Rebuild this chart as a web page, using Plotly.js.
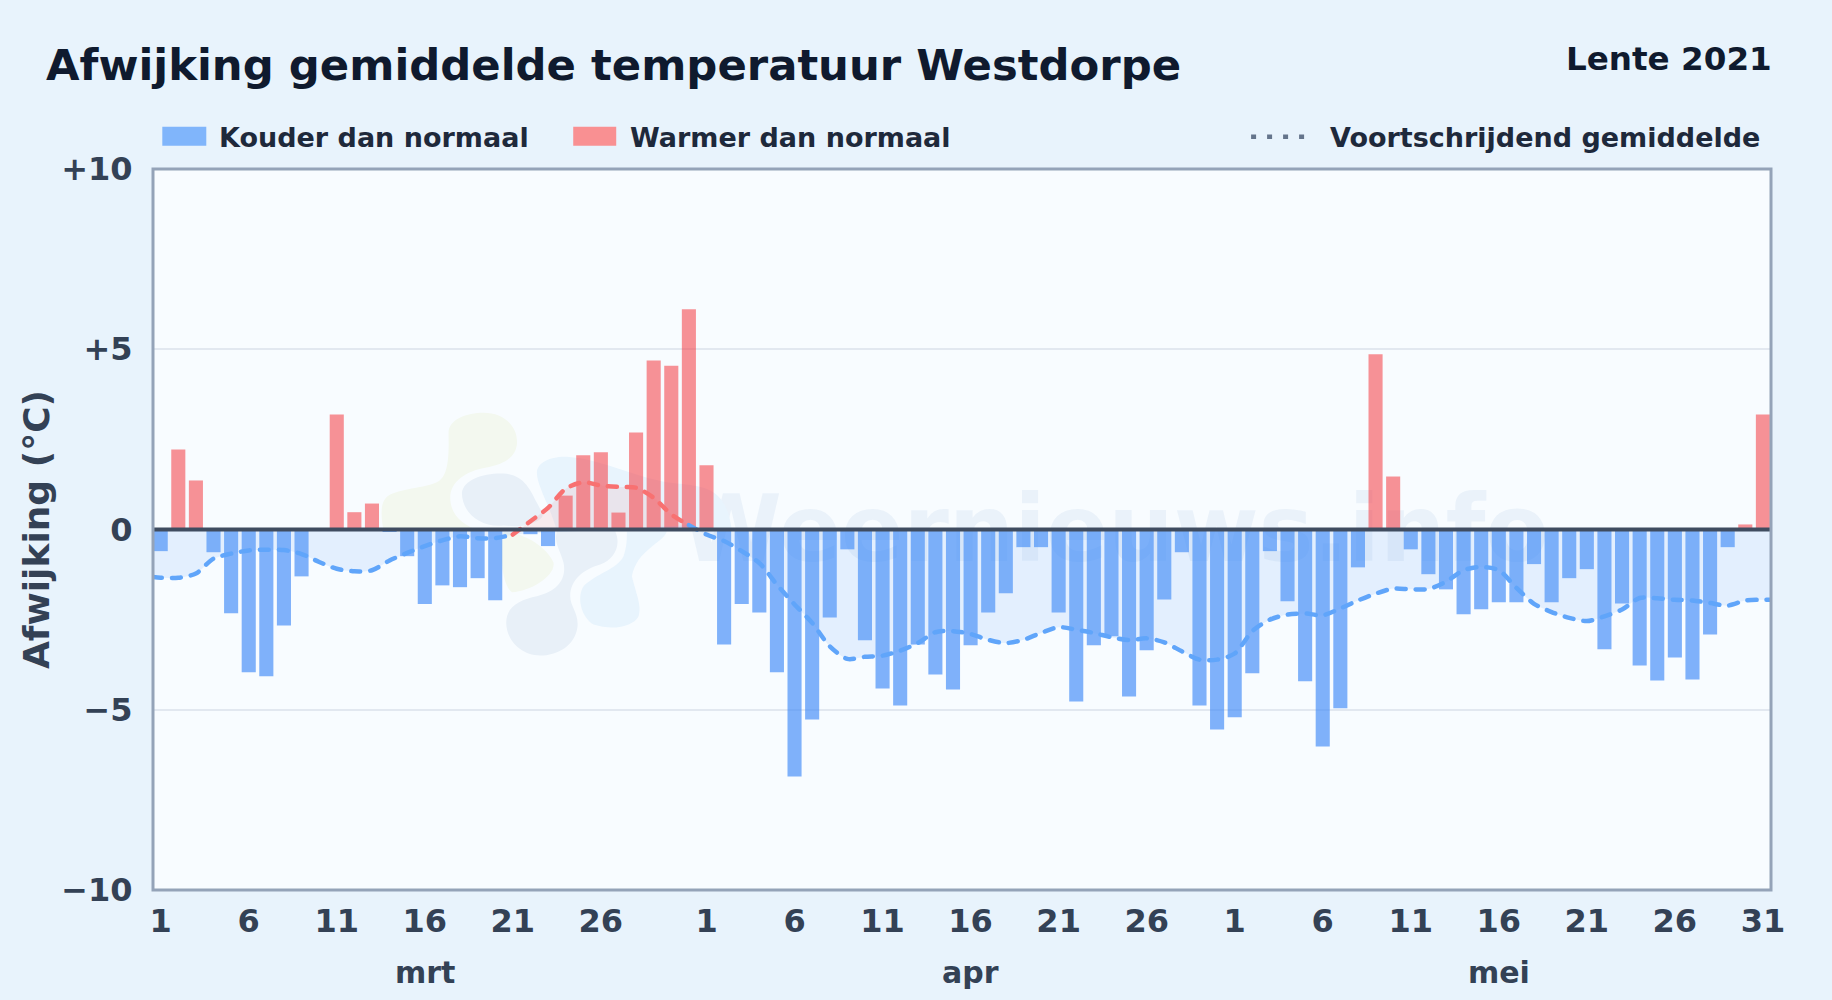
<!DOCTYPE html>
<html><head><meta charset="utf-8">
<script src="https://cdn.plot.ly/plotly-3.0.1.min.js"></script>
<style>html,body{margin:0;padding:0;background:#e8f3fc;overflow:hidden}#chart{width:1832px;height:1000px}path.js-line{stroke-linecap:round}</style>
</head><body><div id="chart"></div>
<script>
const titleText = 'Afwijking gemiddelde temperatuur Westdorpe';
const seasonText = 'Lente 2021';
const coldName = 'Kouder dan normaal';
const warmName = 'Warmer dan normaal';
const rollingName = 'Voortschrijdend gemiddelde';
const yTitle = 'Afwijking (°C)';
const watermarkText = 'Weernieuws.info';

const marchDeviation = [-0.60,2.22,1.36,-0.63,-2.32,-3.96,-4.07,-2.66,-1.30,0,3.19,0.48,0.72,-0.07,-0.74,-2.07,-1.55,-1.60,-1.35,-1.96,0,-0.13,-0.46,0.94,2.06,2.14,0.47,2.69,4.69,4.54,6.11];
const aprilDeviation = [1.78,-3.19,-2.07,-2.30,-3.96,-6.85,-5.27,-2.44,-0.55,-3.07,-4.41,-4.88,-3.19,-4.02,-4.44,-3.21,-2.30,-1.77,-0.49,-0.49,-2.30,-4.77,-3.21,-2.96,-4.63,-3.35,-1.94,-0.63,-4.88,-5.55];
const mayDeviation = [-5.21,-3.99,-0.60,-1.99,-4.21,-6.02,-4.96,-1.05,4.86,1.47,-0.55,-1.24,-1.66,-2.35,-2.21,-2.02,-2.02,-0.96,-2.02,-1.35,-1.10,-3.32,-2.05,-3.77,-4.19,-3.55,-4.16,-2.91,-0.49,0.14,3.19];

const marchRolling = [-1.34,-1.34,-1.22,-0.81,-0.67,-0.58,-0.56,-0.57,-0.68,-0.90,-1.09,-1.16,-1.13,-0.86,-0.65,-0.46,-0.30,-0.19,-0.24,-0.24,-0.14,0.23,0.60,1.13,1.31,1.22,1.18,1.16,0.88,0.42,0.12];
const aprilRolling = [-0.14,-0.32,-0.60,-0.93,-1.53,-2.08,-2.59,-3.24,-3.59,-3.53,-3.50,-3.36,-3.15,-2.85,-2.82,-2.90,-3.06,-3.15,-3.06,-2.87,-2.71,-2.78,-2.87,-2.99,-3.07,-3.02,-3.13,-3.38,-3.61,-3.61];
const mayRolling = [-3.44,-2.82,-2.50,-2.36,-2.33,-2.38,-2.19,-1.97,-1.78,-1.64,-1.66,-1.65,-1.45,-1.13,-1.04,-1.13,-1.62,-2.06,-2.29,-2.45,-2.54,-2.41,-2.22,-1.90,-1.91,-1.95,-1.97,-2.04,-2.11,-1.97,-1.95];
const rollingEdges = [-1.32,-1.95];

const monthNames = ['mrt','apr','mei'];
const monthLabelDays = [15,46,76];
const xTickDays = [0,5,10,15,20,25,31,36,41,46,51,56,61,66,71,76,81,86,91];
const xTickLabels = ['1','6','11','16','21','26','1','6','11','16','21','26','1','6','11','16','21','26','31'];
const yTickValues = [10,5,0,-5,-10];
const yTickLabels = ['+10','+5','0','−5','−10'];

const W=1832,H=1000,L=152.7,R=1771,T=169.3,B=890;
const xRange=[-0.437,91.46];
const px=x=>(x-L)/(R-L), py=y=>(B-y)/(B-T);

const deviation = marchDeviation.concat(aprilDeviation,mayDeviation);
const rolling = [rollingEdges[0]].concat(marchRolling,aprilRolling,mayRolling,[rollingEdges[1]]);
const days = deviation.map((_,i)=>i);
const rollingDays = [xRange[0]].concat(days,[xRange[1]]);
const cold = deviation.map(v=>v<0?v:null);
const warm = deviation.map(v=>v>0?v:null);
const rollingCold = rolling.map((v,i)=>{const d=rollingDays[i];return (d<=20||d>=30)?v:null;});
const rollingWarm = rolling.map((v,i)=>{const d=rollingDays[i];return (d>=20&&d<=30)?v:null;});

const font='"DejaVu Sans"';
const blobs=[
 {c:'#f3f8ef',d:'M235,100 C235,60 290,40 340,40 C400,40 445,80 440,135 C435,175 400,195 345,205 C290,215 240,245 240,295 C240,340 270,375 330,395 L40,395 C30,340 30,300 60,285 C100,265 170,265 205,245 C240,225 235,140 235,100 Z'},
 {c:'#f3f8ef',d:'M400,398 C450,395 530,440 550,490 C555,530 480,575 425,578 C395,560 385,450 400,398 Z'},
 {c:'#e8f0f8',d:'M275,280 C280,240 340,220 400,222 C460,225 480,270 500,310 C515,340 530,350 500,365 C460,385 430,380 400,378 C330,385 275,340 275,280 Z'},
 {c:'#e8f0f8',d:'M560,395 L735,395 C755,440 730,480 690,495 C640,510 600,540 600,590 C600,620 625,640 622,680 C615,740 560,768 510,768 C450,768 408,720 408,670 C408,620 450,600 500,590 C560,575 590,540 580,490 C570,450 550,430 560,395 Z'},
 {c:'#e8f4fd',d:'M500,220 C500,190 540,170 590,172 C700,180 780,230 900,250 C1000,260 1070,260 1085,395 L560,395 C540,320 500,260 500,220 Z'},
 {c:'#e8f4fd',d:'M770,395 L890,395 C880,430 800,450 785,530 C800,590 815,620 805,650 C790,680 730,695 670,675 C630,650 620,590 640,560 C680,520 740,510 760,470 C770,440 770,420 770,395 Z'}
];
function blobPath(d){
  return d.replace(/(-?[\d.]+),(-?[\d.]+)/g,(m,a,b)=>{
    const x=370+a/3,y=400+b/3;
    return ((x-160.4)/17.61).toFixed(3)+','+((530-y)/36.05).toFixed(3);
  });
}
const shapes=blobs.map(b=>({type:'path',layer:'below',xref:'x',yref:'y',path:blobPath(b.d),fillcolor:b.c,line:{width:0}}));
shapes.push({type:'rect',layer:'below',xref:'paper',yref:'paper',x0:px(698),x1:px(1531),y0:py(578),y1:py(468),line:{width:0},fillcolor:'rgba(0,0,0,0)',
  label:{text:watermarkText,font:{family:font,size:92,weight:'bold',color:'rgba(50,110,190,0.07)'},textposition:'middle center'}});
shapes.push({type:'line',layer:'above',xref:'paper',yref:'y',x0:0,x1:1,y0:0,y1:0,line:{color:'#3f4c60',width:4}});
shapes.push({type:'rect',layer:'above',xref:'paper',yref:'paper',x0:0,x1:1,y0:0,y1:1,fillcolor:'rgba(0,0,0,0)',line:{color:'#94a3b8',width:3}});
const sw=(x0,x1,c)=>({type:'rect',xref:'paper',yref:'paper',x0:px(x0),x1:px(x1),y0:py(146),y1:py(127),fillcolor:c,line:{width:0}});
shapes.push(sw(162,206,'#80b5fb'),sw(573,616,'#f99092'));
shapes.push({type:'line',xref:'paper',yref:'paper',x0:px(1251),x1:px(1310),y0:py(137),y1:py(137),line:{color:'#64748b',width:4.5,dash:'5px,11px'}});

const note=(text,x,y,size,color,anchor,extra)=>Object.assign({text,xref:'paper',yref:'paper',x:px(x),y:py(y),xanchor:anchor,yanchor:'middle',showarrow:false,
  font:{family:font,size,color,weight:'bold'}},extra||{});
const annotations=[
 note(titleText,43.5,65,43.35,'#0f1a2e','left'),
 note(seasonText,1774,59,32.6,'#0f1a2e','right'),
 note(coldName,217,137.5,27,'#1e293b','left'),
 note(warmName,628,137.5,27,'#1e293b','left'),
 note(rollingName,1328,137.5,27,'#1e293b','left')
];
monthNames.forEach((m,i)=>annotations.push({text:m,xref:'x',yref:'paper',x:monthLabelDays[i],y:py(972),xanchor:'center',yanchor:'middle',showarrow:false,font:{family:font,size:30,color:'#334155',weight:'bold'}}));

const traces=[
 {type:'bar',name:coldName,x:days,y:cold,width:0.8,marker:{color:'rgba(62,137,248,0.65)',line:{width:0}},showlegend:false,hoverinfo:'x+y'},
 {type:'bar',name:warmName,x:days,y:warm,width:0.8,marker:{color:'rgba(244,63,70,0.57)',line:{width:0}},showlegend:false,hoverinfo:'x+y'},
 {type:'scatter',mode:'lines',name:rollingName,x:rollingDays,y:rollingCold,fill:'tozeroy',fillcolor:'rgba(96,165,250,0.14)',line:{color:'#60a5fa',width:4.5,dash:'9px,10px',shape:'spline',smoothing:0.8},showlegend:false,hoverinfo:'skip'},
 {type:'scatter',mode:'lines',name:rollingName,x:rollingDays,y:rollingWarm,fill:'tozeroy',fillcolor:'rgba(248,113,113,0.12)',line:{color:'#f87171',width:4.5,dash:'9px,10px',shape:'spline',smoothing:0.8},showlegend:false,hoverinfo:'skip'}
];
const layout={
 width:W,height:H,paper_bgcolor:'#e8f3fc',plot_bgcolor:'#f8fcff',
 margin:{l:L,r:W-R,t:T,b:H-B,pad:0},barmode:'overlay',showlegend:false,
 font:{family:font,color:'#334155'},
 xaxis:{range:xRange,tickmode:'array',tickvals:xTickDays,ticktext:xTickLabels,showgrid:false,zeroline:false,showline:false,
   ticks:'outside',ticklen:2.5,tickcolor:'rgba(0,0,0,0)',tickfont:{family:font,size:32,color:'#334155',weight:'bold'}},
 yaxis:{range:[-10,10],tickmode:'array',tickvals:yTickValues,ticktext:yTickLabels,gridcolor:'#e2e8f0',gridwidth:2,zeroline:false,showline:false,
   ticks:'outside',ticklen:13,tickcolor:'rgba(0,0,0,0)',tickfont:{family:font,size:32,color:'#334155',weight:'bold'},
   title:{text:yTitle,standoff:0,font:{family:font,size:36,color:'#334155',weight:'bold'}}},
 shapes,annotations
};
Plotly.newPlot('chart',traces,layout,{displayModeBar:false,staticPlot:true});
</script></body></html>
